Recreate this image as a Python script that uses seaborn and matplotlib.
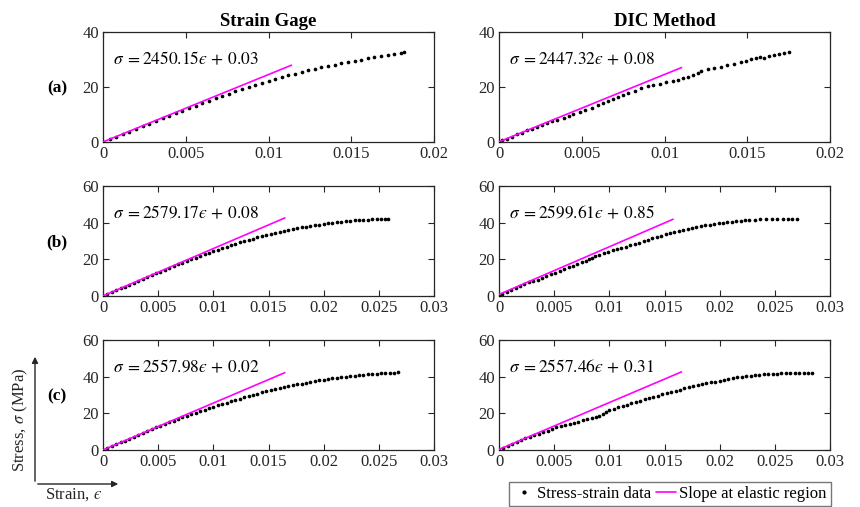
import matplotlib
matplotlib.use("Agg")
import matplotlib.pyplot as plt
import seaborn as sns
import pandas as pd
from matplotlib.lines import Line2D
from matplotlib.patches import FancyArrowPatch

# ---------------- data ----------------
col_titles = ["Strain Gage", "DIC Method"]
row_labels = ["(a)", "(b)", "(c)"]

# fitted elastic slopes  sigma = m*eps + b
fit_slope = [2450.15, 2447.32, 2579.17, 2599.61, 2557.98, 2557.46]
fit_intercept = [0.03, 0.08, 0.08, 0.85, 0.02, 0.31]
fit_end_strain = [0.01139, 0.01103, 0.01648, 0.01578, 0.01648, 0.01654]

# (a) strain gage
a_sg_strain = [0.0000, 0.0004, 0.0008, 0.0012, 0.0016, 0.0020, 0.0024, 0.0028, 0.0032, 0.0036,
               0.0040, 0.0044, 0.0048, 0.0052, 0.0056, 0.0060, 0.0064, 0.0068, 0.0072, 0.0076,
               0.0080, 0.0084, 0.0088, 0.0092, 0.0096, 0.0100, 0.0104, 0.0108, 0.0112, 0.0116,
               0.0120, 0.0124, 0.0128, 0.0132, 0.0136, 0.0140, 0.0144, 0.0148, 0.0152, 0.0156,
               0.0160, 0.0164, 0.0168, 0.0172, 0.0176, 0.0180, 0.0182]
a_sg_stress = [0.00, 0.95, 1.90, 2.86, 3.81, 4.76, 5.71, 6.66, 7.62, 8.57,
               9.52, 10.47, 11.42, 12.34, 13.22, 14.10, 14.98, 15.86, 16.74, 17.60,
               18.38, 19.16, 19.95, 20.73, 21.52, 22.30, 22.94, 23.58, 24.22, 24.86,
               25.50, 26.14, 26.66, 27.14, 27.62, 28.10, 28.58, 29.06, 29.53, 29.98,
               30.43, 30.89, 31.30, 31.70, 32.10, 32.50, 32.70]

# (a) DIC
a_dic_strain = [0.0000, 0.0002, 0.0005, 0.0008, 0.0011, 0.0014, 0.0017, 0.0020, 0.0023, 0.0026,
                0.0029, 0.0032, 0.0035, 0.0039, 0.0042, 0.0045, 0.0049, 0.0052, 0.0056, 0.0060,
                0.0063, 0.0066, 0.0069, 0.0072, 0.0075, 0.0078, 0.0082, 0.0086, 0.0090, 0.0093,
                0.0097, 0.0101, 0.0105, 0.0108, 0.0111, 0.0114, 0.0117, 0.0120, 0.0122, 0.0126,
                0.0130, 0.0134, 0.0138, 0.0142, 0.0146, 0.0149, 0.0152, 0.0155, 0.0158, 0.0160,
                0.0163, 0.0166, 0.0169, 0.0172, 0.0175]
a_dic_stress = [0.08, 0.55, 1.25, 1.95, 2.75, 3.45, 4.20, 4.90, 5.60, 6.30,
                6.95, 7.60, 8.10, 8.85, 9.45, 10.05, 10.75, 11.50, 12.40, 13.40,
                14.10, 14.90, 15.60, 16.50, 17.20, 17.80, 18.60, 19.50, 20.30, 20.60,
                21.10, 21.70, 22.30, 22.70, 23.20, 23.70, 24.30, 25.10, 25.90, 26.40,
                26.90, 27.40, 27.90, 28.50, 29.00, 29.60, 30.20, 30.50, 30.90, 30.60,
                31.30, 31.80, 32.10, 32.40, 32.80]

# (b) strain gage
b_sg_strain = [0.0000, 0.0004, 0.0008, 0.0012, 0.0016, 0.0020, 0.0024, 0.0028, 0.0032, 0.0036,
               0.0040, 0.0044, 0.0048, 0.0052, 0.0056, 0.0060, 0.0064, 0.0068, 0.0072, 0.0076,
               0.0080, 0.0084, 0.0088, 0.0092, 0.0096, 0.0100, 0.0104, 0.0108, 0.0112, 0.0116,
               0.0120, 0.0124, 0.0128, 0.0132, 0.0136, 0.0140, 0.0144, 0.0148, 0.0152, 0.0156,
               0.0160, 0.0164, 0.0168, 0.0172, 0.0176, 0.0180, 0.0184, 0.0188, 0.0192, 0.0196,
               0.0200, 0.0204, 0.0208, 0.0212, 0.0216, 0.0220, 0.0224, 0.0228, 0.0232, 0.0236,
               0.0240, 0.0244, 0.0248, 0.0252, 0.0256, 0.0258]
b_sg_stress = [0.00, 1.02, 2.05, 3.07, 4.10, 5.12, 6.14, 7.17, 8.19, 9.22,
               10.24, 11.26, 12.29, 13.29, 14.26, 15.24, 16.22, 17.19, 18.17, 19.12,
               20.00, 20.88, 21.76, 22.64, 23.52, 24.40, 25.20, 26.00, 26.80, 27.60,
               28.40, 29.20, 29.90, 30.58, 31.25, 31.92, 32.59, 33.26, 33.86, 34.39,
               34.92, 35.45, 35.98, 36.50, 37.00, 37.40, 37.80, 38.20, 38.60, 39.00,
               39.40, 39.67, 39.94, 40.22, 40.49, 40.76, 41.03, 41.21, 41.35, 41.50,
               41.64, 41.78, 41.93, 42.05, 42.15, 42.20]

# (b) DIC
b_dic_strain = [0.0000, 0.0003, 0.0007, 0.0011, 0.0015, 0.0019, 0.0023, 0.0027, 0.0031, 0.0035,
                0.0039, 0.0043, 0.0047, 0.0051, 0.0055, 0.0059, 0.0063, 0.0067, 0.0071, 0.0075,
                0.0079, 0.0082, 0.0084, 0.0087, 0.0091, 0.0095, 0.0099, 0.0103, 0.0107, 0.0111,
                0.0115, 0.0119, 0.0123, 0.0127, 0.0131, 0.0135, 0.0139, 0.0143, 0.0147, 0.0151,
                0.0155, 0.0159, 0.0163, 0.0167, 0.0171, 0.0175, 0.0179, 0.0183, 0.0187, 0.0191,
                0.0195, 0.0199, 0.0203, 0.0207, 0.0211, 0.0215, 0.0219, 0.0223, 0.0227, 0.0232,
                0.0237, 0.0242, 0.0247, 0.0252, 0.0257, 0.0262, 0.0266, 0.0270]
b_dic_stress = [0.0, 1.2, 2.4, 3.5, 4.6, 5.7, 6.6, 7.4, 8.2, 9.0,
                10.0, 10.9, 11.8, 12.8, 13.8, 14.8, 15.6, 16.4, 17.3, 18.3,
                19.3, 20.2, 21.0, 21.6, 22.4, 23.3, 24.2, 25.0, 25.6, 26.3,
                27.0, 27.7, 28.4, 29.1, 29.8, 30.6, 31.4, 32.1, 32.9, 33.7,
                34.6, 35.0, 35.5, 36.0, 36.5, 37.0, 37.5, 38.0, 38.5, 38.9,
                39.2, 39.6, 39.9, 40.2, 40.5, 40.8, 41.0, 41.2, 41.4, 41.6,
                41.8, 41.9, 42.0, 42.1, 42.1, 42.2, 42.2, 42.2]

# (c) strain gage
c_sg_strain = [0.0000, 0.0004, 0.0008, 0.0012, 0.0016, 0.0020, 0.0024, 0.0028, 0.0032, 0.0036,
               0.0040, 0.0044, 0.0048, 0.0052, 0.0056, 0.0060, 0.0064, 0.0068, 0.0072, 0.0076,
               0.0080, 0.0084, 0.0088, 0.0092, 0.0096, 0.0100, 0.0104, 0.0108, 0.0112, 0.0116,
               0.0120, 0.0124, 0.0128, 0.0132, 0.0136, 0.0140, 0.0144, 0.0148, 0.0152, 0.0156,
               0.0160, 0.0164, 0.0168, 0.0172, 0.0176, 0.0180, 0.0184, 0.0188, 0.0192, 0.0196,
               0.0200, 0.0204, 0.0208, 0.0212, 0.0216, 0.0220, 0.0224, 0.0228, 0.0232, 0.0236,
               0.0240, 0.0244, 0.0248, 0.0252, 0.0256, 0.0260, 0.0264, 0.0267]
c_sg_stress = [0.00, 1.02, 2.05, 3.07, 4.10, 5.12, 6.14, 7.17, 8.19, 9.22,
               10.24, 11.26, 12.29, 13.25, 14.14, 15.04, 15.94, 16.83, 17.73, 18.61,
               19.44, 20.27, 21.11, 21.94, 22.77, 23.60, 24.34, 25.07, 25.81, 26.54,
               27.28, 28.02, 28.70, 29.38, 30.05, 30.72, 31.39, 32.06, 32.66, 33.19,
               33.72, 34.25, 34.78, 35.30, 35.81, 36.24, 36.67, 37.10, 37.54, 37.97,
               38.40, 38.72, 39.04, 39.36, 39.68, 40.00, 40.32, 40.57, 40.79, 41.02,
               41.24, 41.46, 41.69, 41.86, 41.98, 42.09, 42.21, 42.30]

# (c) DIC
c_dic_strain = [0.0000, 0.0004, 0.0008, 0.0012, 0.0016, 0.0020, 0.0024, 0.0028, 0.0032, 0.0036,
                0.0040, 0.0044, 0.0048, 0.0052, 0.0056, 0.0060, 0.0064, 0.0068, 0.0072, 0.0076,
                0.0080, 0.0084, 0.0088, 0.0091, 0.0094, 0.0097, 0.0100, 0.0104, 0.0108, 0.0112,
                0.0116, 0.0120, 0.0124, 0.0128, 0.0132, 0.0136, 0.0140, 0.0144, 0.0148, 0.0152,
                0.0156, 0.0160, 0.0164, 0.0168, 0.0172, 0.0176, 0.0180, 0.0184, 0.0188, 0.0192,
                0.0196, 0.0200, 0.0204, 0.0208, 0.0212, 0.0216, 0.0220, 0.0224, 0.0228, 0.0232,
                0.0236, 0.0240, 0.0244, 0.0248, 0.0252, 0.0256, 0.0260, 0.0264, 0.0268, 0.0272,
                0.0276, 0.0280, 0.0284]
c_dic_stress = [0.0, 1.0, 2.2, 3.2, 4.3, 5.4, 6.4, 7.3, 8.1, 8.9,
                9.6, 10.5, 11.5, 12.4, 13.1, 13.8, 14.3, 14.9, 15.5, 16.1,
                16.8, 17.4, 18.1, 18.8, 19.6, 21.0, 22.0, 22.6, 23.2, 23.9,
                24.6, 25.4, 26.2, 26.9, 27.6, 28.3, 29.0, 29.7, 30.3, 31.0,
                31.7, 32.3, 32.9, 33.6, 34.2, 34.8, 35.4, 35.9, 36.4, 36.9,
                37.3, 37.8, 38.3, 38.8, 39.3, 39.7, 40.0, 40.3, 40.5, 40.8,
                41.0, 41.2, 41.4, 41.5, 41.7, 41.8, 41.9, 42.0, 42.1, 42.1,
                42.2, 42.2, 42.2]

x_ticks_a = [0, 0.005, 0.01, 0.015, 0.02]
x_ticklabels_a = ["0", "0.005", "0.01", "0.015", "0.02"]
x_ticks_bc = [0, 0.005, 0.01, 0.015, 0.02, 0.025, 0.03]
x_ticklabels_bc = ["0", "0.005", "0.01", "0.015", "0.02", "0.025", "0.03"]
y_ticks_a = [0, 20, 40]
y_ticks_bc = [0, 20, 40, 60]

legend_labels = ["Stress-strain data", "Slope at elastic region"]
y_label = "Stress, $\\sigma$ (MPa)"
x_label = "Strain, $\u03f5$"

# ---------------- style ----------------
sns.set_style("ticks")
plt.rcParams["font.family"] = ["Liberation Serif", "DejaVu Serif"]
plt.rcParams["mathtext.fontset"] = "stix"
TXT = "#262626"

W, H = 860, 507
fig = plt.figure(figsize=(W / 100, H / 100), dpi=100)

col_x = [103, 499]
ax_w = 331
row_top = [32, 186, 340]
ax_h = 110

series = [
    (a_sg_strain, a_sg_stress), (a_dic_strain, a_dic_stress),
    (b_sg_strain, b_sg_stress), (b_dic_strain, b_dic_stress),
    (c_sg_strain, c_sg_stress), (c_dic_strain, c_dic_stress),
]

for r in range(3):
    for c in range(2):
        k = r * 2 + c
        ax = fig.add_axes([col_x[c] / W, 1 - (row_top[r] + ax_h) / H, ax_w / W, ax_h / H])
        xs, ys = series[k]
        df = pd.DataFrame({"strain": xs, "stress": ys})
        sns.scatterplot(data=df, x="strain", y="stress", ax=ax, color="black",
                        s=7, linewidth=0, marker="o", legend=False, zorder=3)
        m, b, xe = fit_slope[k], fit_intercept[k], fit_end_strain[k]
        dfl = pd.DataFrame({"strain": [0.0, xe], "stress": [b, m * xe + b]})
        sns.lineplot(data=dfl, x="strain", y="stress", ax=ax, color="#FF00FF",
                     linewidth=1.2, legend=False, zorder=4)
        eq = "$\\sigma\\;= " + f"{m:.2f}" + "\u03f5\\,+\\," + f"{b:.2f}" + "$"
        ax.text(0.03, 0.745, eq, transform=ax.transAxes, fontsize=12.5,
                va="center", ha="left", color="black")
        if r == 0:
            ax.set_xlim(0, 0.02)
            ax.set_xticks(x_ticks_a)
            ax.set_xticklabels(x_ticklabels_a)
            ax.set_ylim(0, 40)
            ax.set_yticks(y_ticks_a)
            ax.set_title(col_titles[c], fontweight="bold", fontsize=13.5, pad=4, color="black")
        else:
            ax.set_xlim(0, 0.03)
            ax.set_xticks(x_ticks_bc)
            ax.set_xticklabels(x_ticklabels_bc)
            ax.set_ylim(0, 60)
            ax.set_yticks(y_ticks_bc)
        ax.set_yticklabels([str(v) for v in ax.get_yticks().astype(int)])
        ax.set_xlabel("")
        ax.set_ylabel("")
        ax.tick_params(direction="in", top=True, right=True, length=4, width=0.8,
                       labelsize=12, colors=TXT, pad=3)
        for lab in ax.get_xticklabels() + ax.get_yticklabels():
            lab.set_fontfamily(["Liberation Serif", "DejaVu Serif"])
        for sp in ax.spines.values():
            sp.set_visible(True)
            sp.set_linewidth(0.9)
            sp.set_color(TXT)
        if c == 0:
            fig.text(57 / W, 1 - (row_top[r] + ax_h / 2 + 1) / H, row_labels[r],
                     ha="center", va="center", fontweight="bold", fontsize=12.5, color="black")

# axis-direction arrows at bottom left
ox, oy = 35 / W, 1 - 484 / H
fig.add_artist(FancyArrowPatch((ox, oy), (ox, 1 - 354 / H), transform=fig.transFigure,
                               arrowstyle="-|>", mutation_scale=9, lw=1.0, color=TXT))
fig.add_artist(FancyArrowPatch((ox, oy), (121 / W, oy), transform=fig.transFigure,
                               arrowstyle="-|>", mutation_scale=9, lw=1.0, color=TXT))
fig.text(20 / W, 1 - 420 / H, y_label, rotation=90, ha="center", va="center",
         fontsize=12, color=TXT)
fig.text(45 / W, 1 - 495 / H, x_label, ha="left", va="center", fontsize=12, color=TXT)

# legend
handles = [
    Line2D([], [], linestyle="none", marker="o", markersize=2.0, color="black"),
    Line2D([], [], color="#FF00FF", linewidth=1.2),
]
leg = fig.legend(handles, legend_labels, loc="lower right",
                 bbox_to_anchor=(831 / W, 1 - 506 / H), ncol=2, frameon=True,
                 fontsize=12, handlelength=1.2, handletextpad=0.2, columnspacing=0.3,
                 borderpad=0.25, borderaxespad=0, fancybox=False)
leg.get_frame().set_edgecolor("#555555")
leg.get_frame().set_linewidth(1.0)
for t in leg.get_texts():
    t.set_color("black")

fig.savefig("out.png", dpi=100)
